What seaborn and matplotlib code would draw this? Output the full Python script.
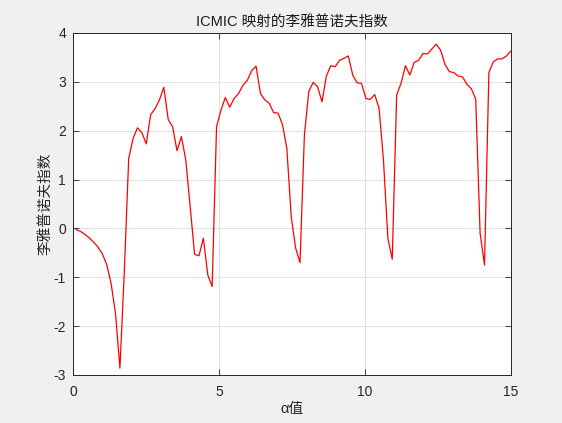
import numpy as np
import pandas as pd
import matplotlib
matplotlib.use("Agg")
import matplotlib.pyplot as plt
import seaborn as sns

# alpha values and Lyapunov exponents
alpha = np.linspace(0.1, 15, 100)
lyap = [
    -0.02, -0.06, -0.12, -0.19, -0.28, -0.38, -0.52, -0.74, -1.13, -1.74,
    -2.86, -0.90, 1.43, 1.84, 2.06, 1.96, 1.73, 2.33, 2.45, 2.63,
    2.89, 2.23, 2.08, 1.59, 1.88, 1.40, 0.44, -0.53, -0.56, -0.20,
    -0.95, -1.19, 2.08, 2.42, 2.68, 2.48, 2.66, 2.76, 2.93, 3.03,
    3.23, 3.32, 2.76, 2.63, 2.56, 2.37, 2.36, 2.13, 1.64, 0.24,
    -0.40, -0.70, 1.91, 2.80, 2.99, 2.90, 2.59, 3.12, 3.33, 3.31,
    3.44, 3.48, 3.53, 3.14, 2.98, 2.97, 2.66, 2.64, 2.74, 2.46,
    1.40, -0.20, -0.63, 2.73, 2.97, 3.33, 3.14, 3.40, 3.44, 3.58,
    3.57, 3.67, 3.77, 3.65, 3.36, 3.21, 3.19, 3.12, 3.10, 2.95,
    2.86, 2.65, -0.10, -0.75, 3.19, 3.41, 3.47, 3.47, 3.53, 3.63,
]
xticks = [0, 5, 10, 15]
yticks = [-3, -2, -1, 0, 1, 2, 3, 4]

df = pd.DataFrame({"alpha": alpha, "lyap": lyap})

sns.set_theme(style="whitegrid")
plt.rcParams['font.family'] = ['Liberation Sans', 'Noto Sans CJK SC', 'DejaVu Sans']
plt.rcParams['axes.unicode_minus'] = False

fig = plt.figure(figsize=(5.62, 4.23), dpi=100, facecolor="#f0f0f0")
ax = fig.add_axes([0.13, 0.1135, 0.779, 0.8085])
ax.set_facecolor("white")

sns.lineplot(data=df, x="alpha", y="lyap", color="red", linewidth=0.9, ax=ax)

ax.set_xlim(0, 15)
ax.set_ylim(-3, 4)
ax.set_xticks(xticks)
ax.set_yticks(yticks)
ax.grid(True, color="#dcdcdc", linewidth=0.6)
for s in ax.spines.values():
    s.set_visible(True)
    s.set_color("#262626")
    s.set_linewidth(0.7)
ax.tick_params(direction="in", length=4, width=0.6, colors="#262626",
               labelsize=10, top=True, right=True, bottom=True, left=True,
               pad=5)
ax.tick_params(axis="x", pad=7.5)

ax.set_title("ICMIC 映射的李雅普诺夫指数", fontsize=10.5, color="#1a1a1a", pad=5)
ax.set_xlabel("α值", fontsize=10.5, color="#262626", labelpad=2)
ax.set_ylabel("李雅普诺夫指数", fontsize=10.5, color="#262626")
ax.yaxis.set_label_coords(-0.048, 0.5)

plt.savefig("out.png", dpi=100, facecolor=fig.get_facecolor())
